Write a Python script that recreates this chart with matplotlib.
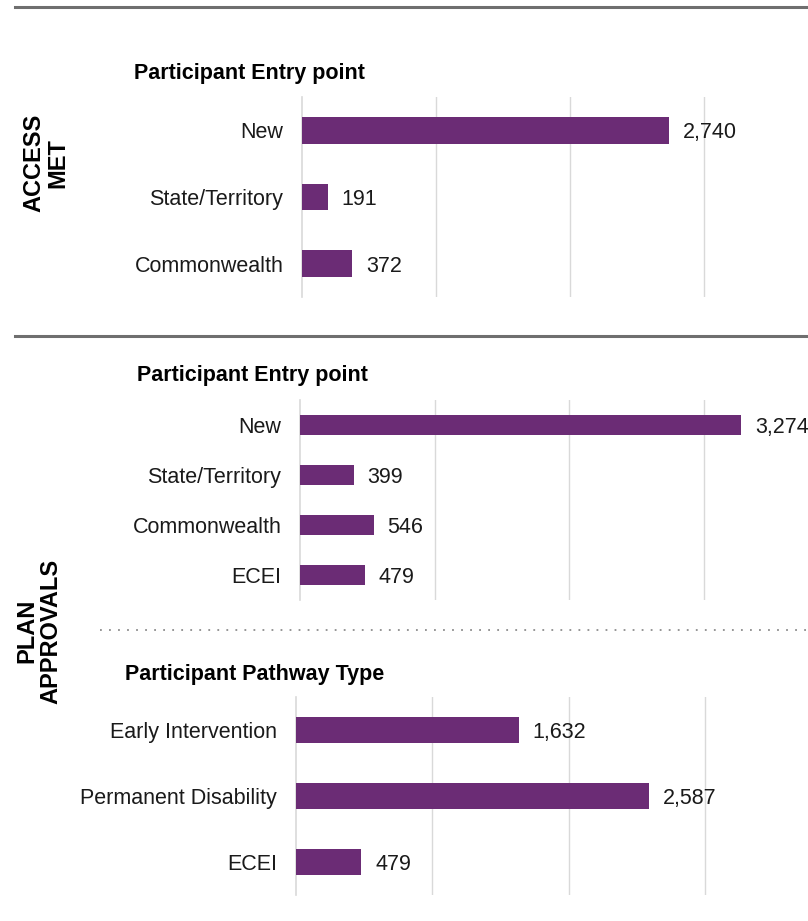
import matplotlib
matplotlib.use("Agg")
import matplotlib.pyplot as plt
from matplotlib.lines import Line2D

plt.rcParams['font.family'] = ['Liberation Sans', 'DejaVu Sans']

# ---- data ----
access_categories = ["New", "State/Territory", "Commonwealth"]
access_values = [2740, 191, 372]

plan_entry_categories = ["New", "State/Territory", "Commonwealth", "ECEI"]
plan_entry_values = [3274, 399, 546, 479]

pathway_categories = ["Early Intervention", "Permanent Disability", "ECEI"]
pathway_values = [1632, 2587, 479]

section_labels = ["ACCESS\nMET", "PLAN\nAPPROVALS"]
panel_titles = ["Participant Entry point", "Participant Entry point", "Participant Pathway Type"]

BAR = "#6B2C75"
GRID = "#D9D9D9"
W, H = 808, 921
FS = 15.5

fig = plt.figure(figsize=(W / 100, H / 100), dpi=100)


def px_axes(left, top, bottom, right=W):
    return fig.add_axes([left / W, 1 - bottom / H, (right - left) / W, (bottom - top) / H])


def draw_panel(ax, cats, vals, xmax):
    y = list(range(len(cats)))
    ax.barh(y, vals, height=0.4, color=BAR, zorder=3)
    ax.set_ylim(len(cats) - 0.5, -0.5)
    ax.set_xlim(0, xmax)
    ax.set_yticks(y)
    ax.set_yticklabels(cats, fontsize=FS, color="#1a1a1a")
    ax.tick_params(axis="y", length=0, pad=13.5)
    ax.set_xticks([1000, 2000, 3000])
    ax.tick_params(axis="x", length=0, labelbottom=False)
    ax.grid(axis="x", color=GRID, linewidth=1, zorder=0)
    for s in ["top", "right", "bottom"]:
        ax.spines[s].set_visible(False)
    ax.spines["left"].set_color(GRID)
    ax.spines["left"].set_linewidth(1.2)
    for yi, v in zip(y, vals):
        ax.annotate(f"{v:,}", (v, yi), xytext=(10, 0), textcoords="offset points",
                    va="center_baseline", ha="left", fontsize=FS, color="#1a1a1a",
                    annotation_clip=False)


ax1 = px_axes(302, 97, 297)
draw_panel(ax1, access_categories, access_values, 3776)

ax2 = px_axes(300, 400, 600)
draw_panel(ax2, plan_entry_categories, plan_entry_values, 3771)

ax3 = px_axes(296, 697, 895)
draw_panel(ax3, pathway_categories, pathway_values, 3751)

# rules
fig.add_artist(Line2D([15 / W, 1], [1 - 7 / H, 1 - 7 / H], color="#6F6F6F", linewidth=2.2,
                      transform=fig.transFigure))
fig.add_artist(Line2D([15 / W, 1], [1 - 336 / H, 1 - 336 / H], color="#6F6F6F", linewidth=2.2,
                      transform=fig.transFigure))
fig.add_artist(Line2D([100 / W, 1], [1 - 630 / H, 1 - 630 / H], color="#8C8C8C", linewidth=1.3,
                      linestyle=(0, (1, 4)), transform=fig.transFigure))

# panel titles
fig.text(134 / W, 1 - 74 / H, panel_titles[0], fontsize=FS, fontweight="bold", va="center", ha="left")
fig.text(137 / W, 1 - 375 / H, panel_titles[1], fontsize=FS, fontweight="bold", va="center", ha="left")
fig.text(125 / W, 1 - 674 / H, panel_titles[2], fontsize=FS, fontweight="bold", va="center", ha="left")

# section labels
fig.text(46 / W, 1 - 163 / H, section_labels[0], rotation=90, fontsize=17, fontweight="bold",
         ha="center", va="center", multialignment="center", linespacing=1.05)
fig.text(39 / W, 1 - 631 / H, section_labels[1], rotation=90, fontsize=17, fontweight="bold",
         ha="center", va="center", multialignment="center", linespacing=1.05)

fig.savefig("out.png", dpi=100, facecolor="white")
